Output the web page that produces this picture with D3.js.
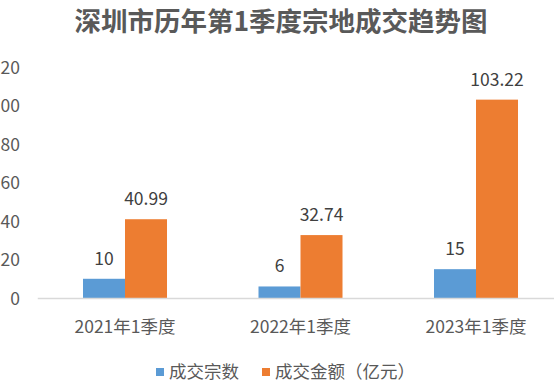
<!DOCTYPE html>
<html><head><meta charset="utf-8">
<script src="https://cdn.jsdelivr.net/npm/d3@7"></script>
<style>html,body{margin:0;padding:0;background:#fff;overflow:hidden}</style>
</head><body>
<svg id="c" width="554" height="387"></svg>
<script>
const categories = ["2021年1季度", "2022年1季度", "2023年1季度"];
const seriesNames = ["成交宗数", "成交金额（亿元）"];
const countValues = [10, 6, 15];
const amountValues = [40.99, 32.74, 103.22];
const yTicks = [0, 20, 40, 60, 80, 100, 120];
const colors = ["#5B9BD5", "#ED7D31"];
const title = "深圳市历年第1季度宗地成交趋势图";

const font = "'Noto Sans CJK SC','Noto Sans',sans-serif";
const svg = d3.select("#c");
const textColor = "#595959";

const y = d3.scaleLinear().domain([0, 120]).range([298, 67.4]);
const x0 = d3.scaleBand().domain(categories).range([37.25, 563.75]).padding(0);
const x1 = d3.scaleBand().domain(seriesNames).range([0, x0.bandwidth()]).paddingInner(0).paddingOuter(1.089);

// title
svg.append("text").attr("x", 281).attr("y", 31).attr("text-anchor", "middle")
  .attr("font-family", font).attr("font-size", 26.5).attr("font-weight", "bold")
  .attr("fill", textColor).text(title);

// y axis labels
const yAxis = d3.axisLeft(y).tickValues(yTicks).tickSize(0).tickPadding(0);
const ga = svg.append("g").attr("transform", "translate(20,0)").call(yAxis);
ga.select(".domain").remove();
ga.selectAll("text").attr("font-family", font).attr("font-size", 17.5).attr("fill", textColor).attr("dy", "0.35em");

// bars
const data = categories.map((c, i) => ({c, vals: [countValues[i], amountValues[i]]}));
const g = svg.append("g");
data.forEach(d => {
  d.vals.forEach((v, j) => {
    const bx = x0(d.c) + x1(seriesNames[j]);
    g.append("rect").attr("x", bx).attr("y", y(v)).attr("width", x1.bandwidth())
      .attr("height", y(0) - y(v)).attr("fill", colors[j]);
    g.append("text").attr("x", bx + x1.bandwidth() / 2).attr("y", y(v) - 14)
      .attr("text-anchor", "middle").attr("font-family", font).attr("font-size", 17.5)
      .attr("fill", "#404040").text(v);
  });
});

// x axis
const xAxis = d3.axisBottom(x0).tickSize(0).tickPadding(0);
const gx = svg.append("g").attr("transform", "translate(0,298)").call(xAxis);
gx.select(".domain").attr("stroke", "#d9d9d9").attr("stroke-width", 1.3);
gx.selectAll("text").attr("font-family", font).attr("font-size", 17.5).attr("fill", textColor)
  .attr("dy", 0).attr("y", 35);

// legend
const legend = svg.append("g");
const lx = [156, 262];
seriesNames.forEach((s, j) => {
  legend.append("rect").attr("x", lx[j]).attr("y", 368).attr("width", 8).attr("height", 8).attr("fill", colors[j]);
  legend.append("text").attr("x", lx[j] + 13).attr("y", 378).attr("font-family", font)
    .attr("font-size", 17.5).attr("fill", textColor).text(s);
});
</script>
</body></html>
